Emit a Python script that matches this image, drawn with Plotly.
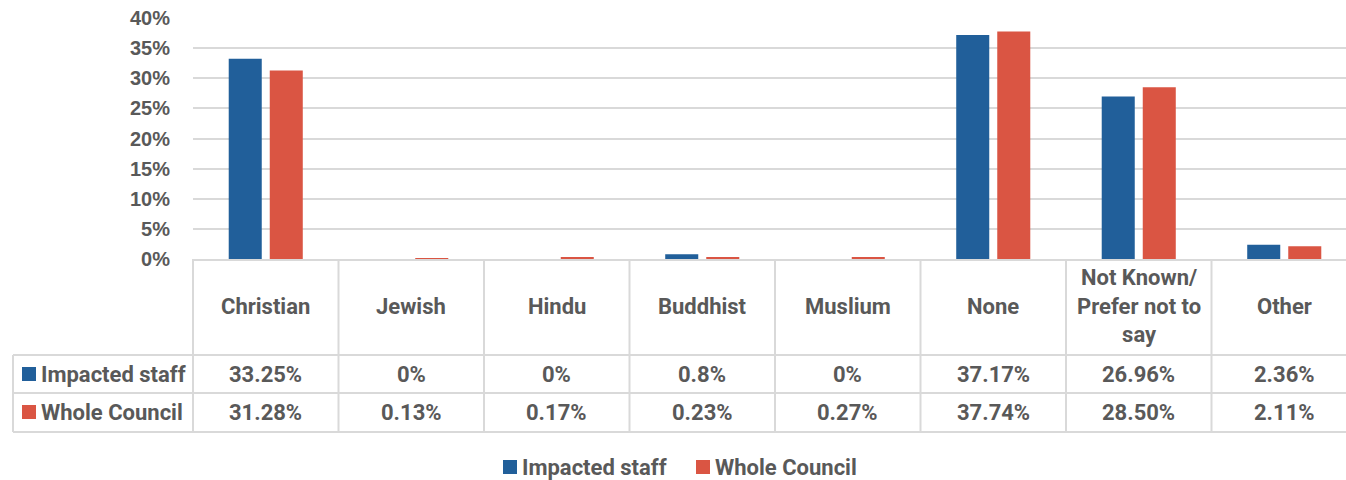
import plotly.graph_objects as go

categories = ["Christian", "Jewish", "Hindu", "Buddhist", "Muslium", "None",
              "Not Known/<br>Prefer not to<br>say", "Other"]
series_names = ["Impacted staff", "Whole Council"]
impacted = [33.25, 0, 0, 0.8, 0, 37.17, 26.96, 2.36]
whole = [31.28, 0.13, 0.17, 0.23, 0.27, 37.74, 28.50, 2.11]
impacted_labels = ["33.25%", "0%", "0%", "0.8%", "0%", "37.17%", "26.96%", "2.36%"]
whole_labels = ["31.28%", "0.13%", "0.17%", "0.23%", "0.27%", "37.74%", "28.50%", "2.11%"]
y_ticks = [0, 5, 10, 15, 20, 25, 30, 35, 40]

BLUE = "#215F9A"
RED = "#DA5543"
GRID = "#D9D9D9"
TXT = "#595959"
W, H = 1346, 480
ML, MT, MB = 193, 18, 221
PH = H - MT - MB
PW = W - ML
FS = 22

def py(p):  # pixel y -> paper y
    return (H - MB - p) / PH

def px(p):  # pixel x -> paper x
    return (p - ML) / PW

xs = list(range(len(categories)))
fig = go.Figure()
fig.add_trace(go.Bar(x=xs, y=impacted, name=series_names[0], marker=dict(color=BLUE, line=dict(width=0))))
fig.add_trace(go.Bar(x=xs, y=whole, name=series_names[1], marker=dict(color=RED, line=dict(width=0))))

font_t = dict(family="Roboto", size=FS, color=TXT, weight="bold")
ann = []
shapes = []
ncat = len(categories)
for i, c in enumerate(categories):
    ann.append(dict(x=i, y=py(306), xref="x", yref="paper", text=c, showarrow=False,
                    font=font_t, xanchor="center", yanchor="middle"))
    ann.append(dict(x=i, y=py(374), xref="x", yref="paper", text=impacted_labels[i], showarrow=False,
                    font=font_t, xanchor="center", yanchor="middle"))
    ann.append(dict(x=i, y=py(412), xref="x", yref="paper", text=whole_labels[i], showarrow=False,
                    font=font_t, xanchor="center", yanchor="middle"))
# row headers with colour keys
for name, col, yc in [(series_names[0], BLUE, 374), (series_names[1], RED, 412)]:
    ann.append(dict(x=px(39), y=py(yc), xref="paper", yref="paper", text=name, showarrow=False,
                    font=font_t, xanchor="left", yanchor="middle"))
    shapes.append(dict(type="rect", xref="paper", yref="paper", x0=px(22), x1=px(36),
                       y0=py(yc - 7), y1=py(yc + 7), fillcolor=col, line=dict(width=0)))
# bottom legend
for name, col, x0 in [(series_names[0], BLUE, 503), (series_names[1], RED, 696)]:
    shapes.append(dict(type="rect", xref="paper", yref="paper", x0=px(x0), x1=px(x0 + 14),
                       y0=py(467 - 7), y1=py(467 + 7), fillcolor=col, line=dict(width=0)))
    ann.append(dict(x=px(x0 + 17), y=py(467), xref="paper", yref="paper", text=name, showarrow=False,
                    font=font_t, xanchor="left", yanchor="middle"))
# table borders
for i in range(ncat + 1):
    shapes.append(dict(type="line", xref="x", yref="paper", x0=i - 0.5, x1=i - 0.5,
                       y0=0, y1=py(432), line=dict(color=GRID, width=2)))
shapes.append(dict(type="line", xref="paper", yref="paper", x0=0, x1=0,
                   y0=0, y1=py(432), line=dict(color=GRID, width=2)))
shapes.append(dict(type="line", xref="paper", yref="paper", x0=px(13), x1=px(13),
                   y0=py(355), y1=py(432), line=dict(color=GRID, width=2)))
for yy in [355, 393, 432]:
    shapes.append(dict(type="line", xref="paper", yref="paper", x0=px(13), x1=1.01,
                       y0=py(yy), y1=py(yy), line=dict(color=GRID, width=2)))

fig.update_layout(
    width=W, height=H,
    margin=dict(l=ML, r=0, t=MT, b=MB, pad=0),
    paper_bgcolor="white", plot_bgcolor="white",
    barmode="group", bargap=0.436, bargroupgap=0.195,
    showlegend=False,
    hovermode=False,
    annotations=ann, shapes=shapes,
    xaxis=dict(range=[-0.5, -0.5 + PW / 145.5], showticklabels=False, ticks="",
               showgrid=False, zeroline=False, showline=True, linecolor=GRID, linewidth=2),
    yaxis=dict(range=[0, 40], tickvals=y_ticks, ticktext=[f"{v}%" for v in y_ticks],
               showgrid=True, gridcolor=GRID, gridwidth=2, zeroline=False, showline=False,
               ticks="", ticklabelstandoff=22,
               tickfont=dict(family="Liberation Sans", size=20, color=TXT, weight="bold")),
)
fig.write_html("out.html",
               config={"displayModeBar": False, "responsive": False},
               post_script=("document.documentElement.style.margin='0';"
                            "document.body.style.margin='0';"
                            "document.documentElement.style.overflow='hidden';"
                            "document.body.style.overflow='hidden';"))
